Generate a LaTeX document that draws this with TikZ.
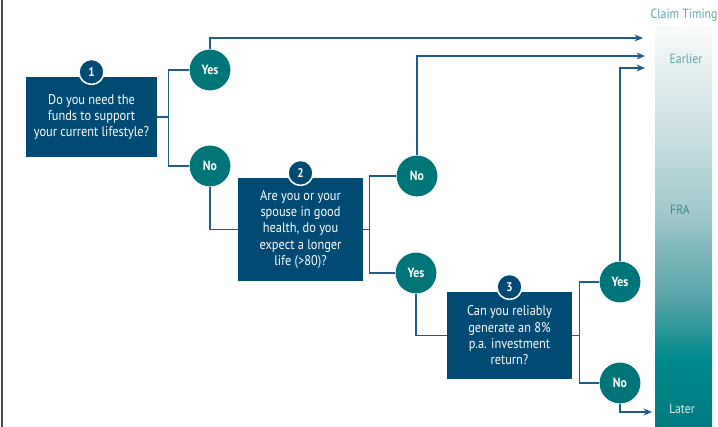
\documentclass[tikz,border=0pt]{standalone}
\usepackage{fontspec}
\setmainfont{PT Sans}[FakeStretch=0.88]
\usetikzlibrary{arrows.meta,shapes}
\definecolor{qblue}{RGB}{0,74,115}
\definecolor{ateal}{RGB}{0,117,121}
\definecolor{lnblue}{RGB}{30,92,138}
\definecolor{lblhead}{RGB}{96,163,168}
\definecolor{lblfra}{RGB}{62,139,146}
\definecolor{lbllate}{RGB}{222,238,238}
\definecolor{barA}{RGB}{248,250,250}
\definecolor{barB}{RGB}{198,222,224}
\definecolor{barC}{RGB}{162,201,204}
\definecolor{barD}{RGB}{85,163,167}
\definecolor{barE}{RGB}{0,137,141}
\definecolor{barF}{RGB}{0,122,128}
\pgfdeclareverticalshading{claimbar}{100bp}{color(0bp)=(barF); color(25bp)=(barF); color(33.4bp)=(barE); color(40.9bp)=(barD); color(52.1bp)=(barC); color(60.9bp)=(barB); color(75bp)=(barA); color(100bp)=(barA)}
\tikzstyle{qbox}=[rectangle,fill=qblue,text=white,align=center,inner sep=0pt,font=\fontsize{10}{11.6}\selectfont]
\tikzstyle{badge}=[circle,fill=qblue,draw=white,line width=1.1pt,text=white,minimum size=.625cm,inner sep=0pt,font=\bfseries\fontsize{9}{9}\selectfont]
\tikzstyle{ans}=[circle,fill=ateal,text=white,minimum size=1.02cm,inner sep=0pt,font=\bfseries\fontsize{9.5}{9.5}\selectfont]
\tikzstyle{link}=[draw=lnblue,line width=1.1pt]
\tikzstyle{arr}=[link,-{Stealth[length=6pt,width=5pt]}]
\tikzstyle{scl}=[inner sep=0pt,font=\fontsize{9.5}{9.5}\selectfont]

\begin{document}
\begin{tikzpicture}[x=.025cm,y=-.025cm]
\useasboundingbox (0,0) rectangle (718,427);
\draw[gray!60!black,line width=1.4pt] (2,0) -- (2,427);
% claim timing bar
\shade[shading=claimbar] (655,27) rectangle (712,427);
\node[scl,text=lblhead] (t0) at (684,15) {Claim Timing};
\node[scl,text=lblhead] (t1) at (686,59) {Earlier};
\node[scl,text=lblfra] (t2) at (680,210) {FRA};
\node[scl,text=lbllate] (t3) at (682,409) {Later};
% questions
\node[qbox,minimum width=3.275cm,minimum height=2cm] (q1) at (91.5,117) {Do you need the\\funds to support\\your current lifestyle?};
\node[qbox,minimum width=3.125cm,minimum height=2.575cm] (q2) at (300.5,229.5) {Are you or your\\spouse in good\\health, do you\\expect a longer\\life (>80)?};
\node[qbox,minimum width=3.125cm,minimum height=2.175cm] (q3) at (509.5,335.5) {Can you reliably\\generate an 8\%\\p.a. investment\\return?};
\foreach \q in {1,2,3} {\node[badge] (b\q) at ([yshift=.12cm]q\q.north) {\q};}
% answers
\foreach \n/\x/\y/\t in {y1/210/70/Yes,n1/210/166/No,n2/417/176/No,y2/416/273/Yes,y3/620/282/Yes,n3/620/383/No}
  {\node[ans] (\n) at (\x,\y) {\t};}
\coordinate (e1) at (643,38);
\coordinate (e2) at (645,56);
\coordinate (e3) at (645,68);
\coordinate (e4) at (652,412);
\draw[link] (q1.east) -- ++(11,0) |- (y1);
\draw[link] (q1.east) -- ++(11,0) |- (n1);
\draw[arr] (y1) |- (e1);
\draw[link] (n1) |- (q2);
\draw[link] (q2.east) -- ++(6,0) |- (n2);
\draw[link] (q2.east) -- ++(6,0) |- (y2);
\draw[arr] (n2) |- (e2);
\draw[link] (y2) |- (q3);
\draw[link] (q3.east) -- ++(7,0) |- (y3);
\draw[link] (q3.east) -- ++(7,0) |- (n3);
\draw[arr] (y3) |- (e3);
\draw[arr] (n3) |- (e4);
\end{tikzpicture}
\end{document}
